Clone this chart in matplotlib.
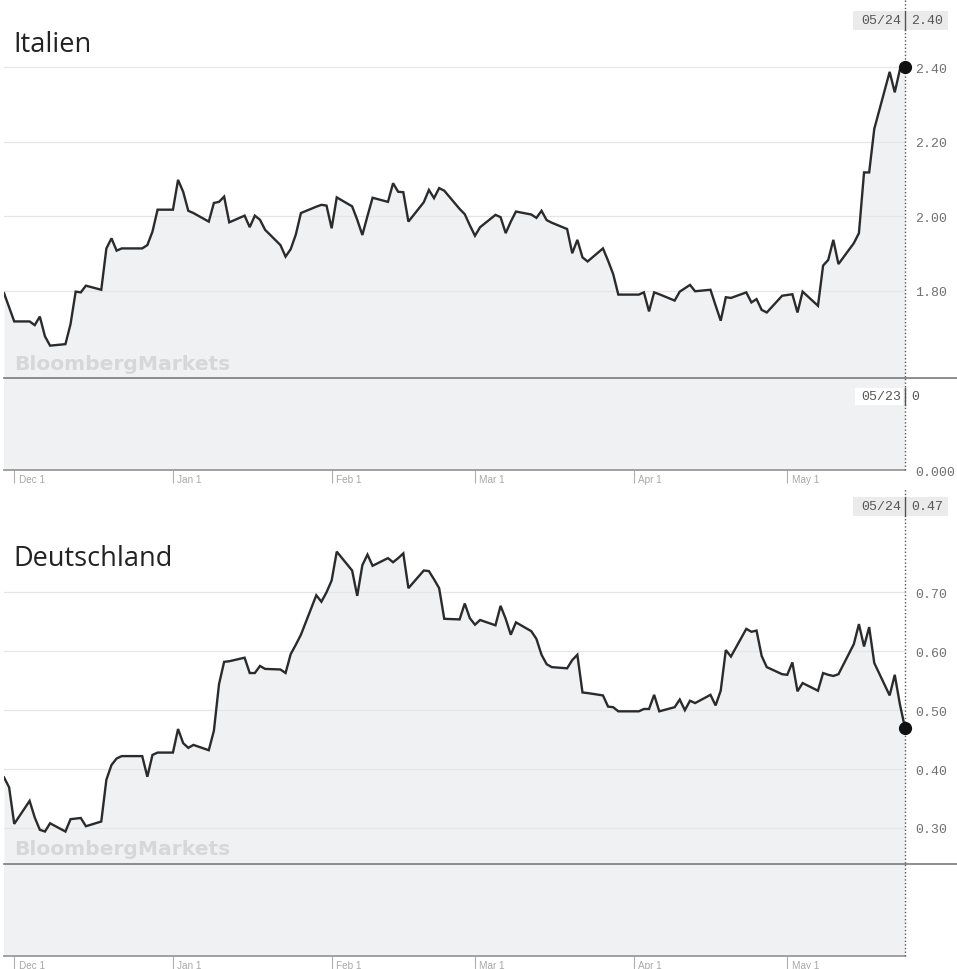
import matplotlib
matplotlib.use("Agg")
import matplotlib.pyplot as plt
import matplotlib.dates as mdates
import matplotlib.transforms as mtransforms
from matplotlib.patches import Rectangle
import pandas as pd

# ---------------- data ----------------
dates = pd.bdate_range("2017-11-29", "2018-05-24").drop(pd.Timestamp("2017-12-25"))

italy = [
    1.793, 1.755,
    1.717, 1.717, 1.707, 1.730, 1.677, 1.652, 1.656, 1.710, 1.797, 1.795,
    1.813, 1.802, 1.913, 1.940, 1.907, 1.913, 1.913, 1.922, 1.958, 2.017,
    2.017, 2.097, 2.065, 2.014, 2.008, 1.985, 2.035, 2.038, 2.052, 1.983,
    2.001, 1.970, 2.001, 1.990, 1.963, 1.922, 1.891, 1.911, 1.950, 2.008,
    2.025, 2.030, 2.028,
    1.967, 2.050, 2.026, 1.990, 1.949, 2.000, 2.049, 2.038, 2.088, 2.065,
    2.064, 1.985, 2.037, 2.070, 2.048, 2.075, 2.068, 2.019, 2.005, 1.975,
    1.947, 1.970, 2.003, 1.997, 1.954, 1.985, 2.012, 2.004, 1.995, 2.014,
    1.989, 1.982, 1.965, 1.900, 1.936, 1.889, 1.878, 1.913, 1.880, 1.844,
    1.789, 1.789,
    1.789, 1.795, 1.744, 1.795, 1.790, 1.773, 1.797, 1.806, 1.815, 1.798,
    1.802, 1.760, 1.719, 1.782, 1.780, 1.795, 1.768, 1.777, 1.748, 1.741,
    1.786,
    1.788, 1.790, 1.741, 1.797, 1.759, 1.867, 1.882, 1.936, 1.871, 1.927,
    1.954, 2.117, 2.117, 2.234, 2.387, 2.332, 2.393, 2.400,
]

germany = [
    0.386, 0.369,
    0.307, 0.346, 0.318, 0.297, 0.294, 0.308, 0.294, 0.315, 0.316, 0.317,
    0.303, 0.311, 0.382, 0.407, 0.418, 0.422, 0.422, 0.387, 0.424, 0.428,
    0.428, 0.468, 0.444, 0.436, 0.441, 0.432, 0.465, 0.544, 0.582, 0.583,
    0.589, 0.563, 0.563, 0.575, 0.570, 0.569, 0.563, 0.595, 0.611, 0.628,
    0.695, 0.684, 0.700,
    0.720, 0.769, 0.737, 0.694, 0.746, 0.764, 0.745, 0.758, 0.751, 0.758,
    0.766, 0.707, 0.737, 0.736, 0.722, 0.707, 0.655, 0.654, 0.681, 0.656,
    0.645, 0.653, 0.644, 0.677, 0.655, 0.628, 0.649, 0.634, 0.621, 0.594,
    0.578, 0.573, 0.571, 0.585, 0.594, 0.530, 0.529, 0.525, 0.506, 0.505,
    0.498, 0.498,
    0.498, 0.502, 0.502, 0.526, 0.498, 0.505, 0.518, 0.500, 0.516, 0.512,
    0.526, 0.508, 0.533, 0.602, 0.591, 0.638, 0.633, 0.635, 0.592, 0.573,
    0.561,
    0.560, 0.581, 0.532, 0.546, 0.533, 0.563, 0.560, 0.558, 0.561, 0.612,
    0.646, 0.608, 0.641, 0.580, 0.525, 0.560, 0.510, 0.470,
]

titles = ["Italien", "Deutschland"]
italy_ticks = [1.80, 2.00, 2.20, 2.40]
germany_ticks = [0.30, 0.40, 0.50, 0.60, 0.70]
month_ticks = ["2017-12-01", "2018-01-01", "2018-02-01", "2018-03-01",
               "2018-04-01", "2018-05-01"]
month_labels = ["Dec 1", "Jan 1", "Feb 1", "Mar 1", "Apr 1", "May 1"]
vol_date_label = "05/23"
vol_value = 0

# ---------------- styling ----------------
W, H = 957, 970
FILL = "#f0f1f3"
LINE = "#2b2b2b"
GRID = "#e6e6e6"
MONO = "Liberation Mono"

fig = plt.figure(figsize=(W / 100, H / 100), dpi=100)


def pax(x0, y0, x1, y1):
    return fig.add_axes([x0 / W, 1 - y1 / H, (x1 - x0) / W, (y1 - y0) / H])


ov = fig.add_axes([0, 0, 1, 1], zorder=10)
ov.set_xlim(0, W)
ov.set_ylim(H, 0)
ov.axis("off")
ov.patch.set_alpha(0)

xlim = (mdates.date2num(dates[0]), mdates.date2num(dates[-1]))
shift = mtransforms.ScaledTranslation

panels = [
    dict(vals=italy, ticks=italy_ticks, main=(4, 0, 905, 378), ylim=(1.5678, 2.5826),
         vol=(4, 379, 905, 471), title_y=52, wm_y=370, sep_y=378.5, head_y=21.5,
         show_vol_label=True),
    dict(vals=germany, ticks=germany_ticks, main=(4, 490, 905, 864), ylim=(0.2406, 0.8753),
         vol=(4, 865, 905, 957), title_y=566, wm_y=855, sep_y=864.5, head_y=507,
         show_vol_label=False),
]

for p, title in zip(panels, titles):
    ax = pax(*p["main"])
    ax.set_xlim(*xlim)
    ax.set_ylim(*p["ylim"])
    ymin = p["ylim"][0]
    ax.fill_between(dates, p["vals"], ymin, color=FILL, lw=0, zorder=1)
    ax.plot(dates, p["vals"], color=LINE, lw=1.7, zorder=3, solid_joinstyle="miter")
    ax.plot([dates[-1]], [p["vals"][-1]], "o", ms=8.5, color="#111111", zorder=5,
            clip_on=False)
    ax.axvline(dates[-1], color="#555555", lw=1, ls=(0, (1, 1.6)), zorder=4, clip_on=False)
    ax.set_yticks(p["ticks"])
    ax.set_yticklabels([f"{t:.2f}" for t in p["ticks"]], fontfamily=MONO)
    ax.yaxis.tick_right()
    ax.tick_params(axis="y", length=0, pad=7.5, labelsize=9.5, labelcolor="#707070")
    ax.tick_params(axis="x", bottom=False, labelbottom=False)
    ax.grid(axis="y", color=GRID, lw=0.9)
    for s in ax.spines.values():
        s.set_visible(False)
    ax.patch.set_alpha(0)

    # volume pane
    vol = pax(*p["vol"])
    vol.set_xlim(*xlim)
    vol.set_ylim(0, 1)
    vol.set_facecolor(FILL)
    for k, s in vol.spines.items():
        s.set_visible(k == "bottom")
    vol.spines["bottom"].set_color("#9a9a9a")
    vol.spines["bottom"].set_linewidth(1.3)
    vol.axvline(dates[-1], color="#555555", lw=1, ls=(0, (1, 1.6)), zorder=4, clip_on=False)
    mt = pd.to_datetime(month_ticks)
    vol.set_xticks(mt)
    vol.set_xticklabels([])
    vol.tick_params(axis="x", direction="out", length=9, width=0.8, color="#b0b0b0")
    trans = mtransforms.blended_transform_factory(vol.transData, vol.transAxes)
    for d, lab in zip(mt, month_labels):
        vol.text(d, 0, lab, transform=trans + shift(0.045, -0.12, fig.dpi_scale_trans),
                 ha="left", va="baseline", fontsize=7.2, color="#a8a8a8",
                 family="Liberation Sans")
    if p["show_vol_label"]:
        vol.yaxis.tick_right()
        vol.set_yticks([0])
        vol.set_yticklabels(["0.000"], fontfamily=MONO)
        vol.tick_params(axis="y", length=0, pad=7.5, labelsize=9.5, labelcolor="#707070")
    else:
        vol.set_yticks([])

    # title + watermark
    ov.text(13, p["title_y"], title, fontsize=19.5, family="Open Sans", color="#222222",
            va="baseline", ha="left")
    ov.text(14, p["wm_y"], "BloombergMarkets", fontsize=14.6, family="DejaVu Sans",
            weight="bold", color="#d6d7d9", va="baseline", ha="left", zorder=2)

    # dark separator line
    ov.plot([4, W], [p["sep_y"], p["sep_y"]], color="#7a7a7a", lw=1.2)

    # header box
    hy = p["head_y"]
    ov.add_patch(Rectangle((853, hy - 9.5), 95, 19, facecolor="#ebebeb", edgecolor="none"))
    ov.plot([905, 905], [hy - 9.5, hy + 9.5], color="#555555", lw=1)
    ov.text(901, hy, dates[-1].strftime("%m/%d"), ha="right", va="center", fontsize=9.5,
            family=MONO, color="#555555")
    ov.text(911, hy, f"{p['vals'][-1]:.2f}", ha="left", va="center", fontsize=9.5,
            family=MONO, color="#555555")

    if p["show_vol_label"]:
        vy = 397
        ov.add_patch(Rectangle((855, vy - 8.5), 48, 17, facecolor="white", edgecolor="none"))
        ov.plot([905, 905], [vy - 8.5, vy + 8.5], color="#555555", lw=1)
        ov.text(901, vy, vol_date_label, ha="right", va="center", fontsize=9.5,
                family=MONO, color="#555555")
        ov.text(911, vy, f"{vol_value}", ha="left", va="center", fontsize=9.5,
                family=MONO, color="#555555")

fig.savefig("out.png", dpi=100)
